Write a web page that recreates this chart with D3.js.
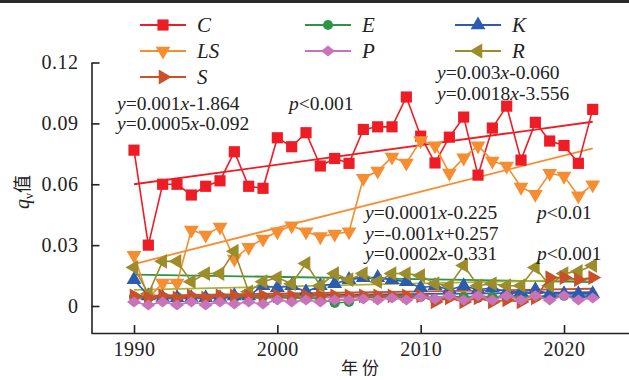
<!DOCTYPE html>
<html>
<head>
<meta charset="utf-8">
<script src="https://cdn.jsdelivr.net/npm/d3@7"></script>
<style>
  body { margin: 0; background: #fff; }
  svg { display: block; font-family: "Liberation Serif", "Times New Roman", serif; }
</style>
</head>
<body>
<div id="chart"></div>
<script>
// years on the x axis
const years = [1990, 1991, 1992, 1993, 1994, 1995, 1996, 1997, 1998, 1999,
  2000, 2001, 2002, 2003, 2004, 2005, 2006, 2007, 2008, 2009,
  2010, 2011, 2012, 2013, 2014, 2015, 2016, 2017, 2018, 2019,
  2020, 2021, 2022];

// q_v values per index
const C = [0.0768, 0.030, 0.060, 0.060, 0.0547, 0.059, 0.0617, 0.076, 0.059, 0.058,
  0.0829, 0.0785, 0.0854, 0.069, 0.0727, 0.0703, 0.087, 0.0883, 0.0883, 0.103,
  0.0837, 0.0705, 0.0832, 0.0931, 0.0645, 0.0877, 0.0985, 0.0719, 0.0905, 0.0813,
  0.0791, 0.0703, 0.0969];
const LS = [0.025, 0.004, 0.0113, 0.0113, 0.0374, 0.035, 0.0389, 0.0232, 0.029, 0.033,
  0.0366, 0.0396, 0.0366, 0.0342, 0.0355, 0.0366, 0.063, 0.0665, 0.0734, 0.0705,
  0.0815, 0.079, 0.0655, 0.073, 0.079, 0.0715, 0.069, 0.0586, 0.0551, 0.0654,
  0.064, 0.0543, 0.0598];
const E = [0.0045, 0.004, 0.004, 0.0045, 0.004, 0.004, 0.0045, 0.004, 0.004, 0.0045,
  0.0045, 0.004, 0.004, 0.0035, 0.0015, 0.002, 0.004, 0.0045, 0.0045, 0.004,
  0.0045, 0.003, 0.0045, 0.0045, 0.004, 0.0045, 0.004, 0.0045, 0.0045, 0.005,
  0.005, 0.0045, 0.005];
const K = [0.013, 0.005, 0.004, 0.004, 0.004, 0.004, 0.004, 0.005, 0.005, 0.010,
  0.009, 0.010, 0.007, 0.010, 0.011, 0.013, 0.014, 0.014, 0.013, 0.012,
  0.009, 0.010, 0.008, 0.010, 0.008, 0.009, 0.007, 0.007, 0.008, 0.006,
  0.006, 0.006, 0.006];
const P = [0.002, 0.0005, 0.002, 0.0005, 0.002, 0.0005, 0.002, 0.001, 0.002, 0.001,
  0.003, 0.002, 0.003, 0.002, 0.003, 0.003, 0.0035, 0.003, 0.004, 0.003,
  0.0045, 0.0035, 0.005, 0.003, 0.005, 0.003, 0.005, 0.003, 0.005, 0.003,
  0.005, 0.003, 0.004];
const R = [0.019, 0.006, 0.022, 0.022, 0.012, 0.016, 0.016, 0.027, 0.007, 0.012,
  0.014, 0.011, 0.021, 0.010, 0.016, 0.013, 0.016, 0.012, 0.016, 0.016,
  0.015, 0.011, 0.010, 0.020, 0.010, 0.011, 0.010, 0.010, 0.019, 0.010,
  0.016, 0.017, 0.020];
const S = [0.005, 0.004, 0.005, 0.004, 0.005, 0.004, 0.005, 0.005, 0.005, 0.005,
  0.005, 0.005, 0.005, 0.005, 0.005, 0.005, 0.005, 0.005, 0.005, 0.005,
  0.005, 0.002, 0.004, 0.002, 0.004, 0.002, 0.003, 0.002, 0.004, 0.014,
  0.014, 0.013, 0.014];

// fitted lines, value at first and last year
const trendYears = [1990, 2022];
const trendC = [0.060, 0.0908];
const trendLS = [0.0207, 0.0777];
const trendE = [0.0155, 0.0118];
const trendR = [0.008, 0.013];
const trendS = [0.005, 0.0085];
const trendK = [0.0045, 0.0068];
const trendP = [0.0035, 0.005];

const yTicks = [0, 0.03, 0.06, 0.09, 0.12];
const xTicks = [1990, 2000, 2010, 2020];

const W = 629, H = 380;
const svg = d3.select('#chart').append('svg')
  .attr('width', W).attr('height', H);

svg.append('rect').attr('x', 0).attr('y', 0).attr('width', W).attr('height', 3).attr('fill', '#2a2a2a');

const x = d3.scaleLinear().domain([1987, 2025]).range([91, 635.7]);
const y = d3.scaleLinear().domain([-0.0133, 0.12]).range([333, 62.5]);

// symbols
const tri = d3.symbol().type(d3.symbolTriangle).size(95)();
const shapes = {
  square: d3.symbol().type(d3.symbolSquare).size(125)(),
  circle: d3.symbol().type(d3.symbolCircle).size(80)(),
  up: tri, down: tri, left: tri, right: tri,
  diamond: 'M-7,0L0,-5.5L7,0L0,5.5Z'
};
const rot = { up: 0, down: 180, left: -90, right: 90, square: 0, circle: 0, diamond: 0 };

const series = [
  { name: 'C', values: C, trend: trendC, color: '#ee1d25', tcolor: '#ee1d25', shape: 'square' },
  { name: 'E', values: E, trend: trendE, color: '#2f9446', tcolor: '#2f9446', shape: 'circle' },
  { name: 'K', values: K, trend: trendK, color: '#2b5caf', tcolor: '#2b5caf', shape: 'up' },
  { name: 'LS', values: LS, trend: trendLS, color: '#f68d30', tcolor: '#f68d30', shape: 'down' },
  { name: 'P', values: P, trend: trendP, color: '#c774bb', tcolor: '#c774bb', shape: 'diamond' },
  { name: 'R', values: R, trend: trendR, color: '#9c8c2a', tcolor: '#a9b43a', shape: 'left' },
  { name: 'S', values: S, trend: trendS, color: '#c9512a', tcolor: '#c9512a', shape: 'right' }
];
const drawOrder = ['C', 'LS', 'E', 'K', 'R', 'S', 'P'];

// axes
const yAxis = d3.axisLeft(y).tickValues(yTicks)
  .tickFormat(d => d === 0 ? '0' : d3.format('.2f')(d))
  .tickSizeInner(-8).tickSizeOuter(0).tickPadding(13);
const gy = svg.append('g').attr('transform', 'translate(91.5,0)').call(yAxis);

const xAxis = d3.axisBottom(x).tickValues(xTicks).tickFormat(d3.format('d'))
  .tickSizeInner(-8).tickSizeOuter(0).tickPadding(9);
const gx = svg.append('g').attr('transform', 'translate(0,333)').call(xAxis);

[gx, gy].forEach(g => {
  g.selectAll('path, line').attr('stroke', '#222').attr('stroke-width', 1.6);
  g.selectAll('text').attr('fill', '#222').style('font-size', '20px')
    .style('font-family', '"Liberation Serif", serif').style('letter-spacing', '0.5px');
});

// trend lines
const line = d3.line().x(d => x(d[0])).y(d => y(d[1]));
drawOrder.forEach(n => {
  const s = series.find(d => d.name === n);
  svg.append('path')
    .attr('d', line(trendYears.map((yr, i) => [yr, s.trend[i]])))
    .attr('fill', 'none').attr('stroke', s.tcolor).attr('stroke-width', 1.8);
});

// data lines and markers
drawOrder.forEach(n => {
  const s = series.find(d => d.name === n);
  const pts = years.map((yr, i) => [yr, s.values[i]]);
  svg.append('path').attr('d', line(pts))
    .attr('fill', 'none').attr('stroke', s.color).attr('stroke-width', 1.6);
  svg.append('g').selectAll('path').data(pts).enter().append('path')
    .attr('d', shapes[s.shape])
    .attr('transform', d => 'translate(' + x(d[0]) + ',' + y(d[1]) + ') rotate(' + rot[s.shape] + ')')
    .attr('fill', s.color);
});

// legend
const legendCols = [140, 305, 455];
const legendRows = [25, 51, 77];
const legendOrder = ['C', 'E', 'K', 'LS', 'P', 'R', 'S'];
legendOrder.forEach((n, i) => {
  const s = series.find(d => d.name === n);
  const lx = legendCols[i % 3], ly = legendRows[Math.floor(i / 3)];
  const g = svg.append('g').attr('transform', 'translate(' + lx + ',' + ly + ')');
  g.append('line').attr('x1', 0).attr('x2', 46).attr('y1', 0).attr('y2', 0)
    .attr('stroke', s.color).attr('stroke-width', 1.8);
  g.append('path').attr('d', shapes[s.shape])
    .attr('transform', 'translate(23,0) rotate(' + rot[s.shape] + ')').attr('fill', s.color);
  g.append('text').attr('x', 57).attr('y', 7).style('font-size', '21px')
    .style('font-style', 'italic').attr('fill', '#222').text(s.name);
});

// annotations
const notes = [
  { x: 117, y: 110, parts: [['y', 1], ['=0.001', 0], ['x', 1], ['-1.864', 0]] },
  { x: 117, y: 130, parts: [['y', 1], ['=0.0005', 0], ['x', 1], ['-0.092', 0]] },
  { x: 289, y: 110, parts: [['p', 1], ['<0.001', 0]] },
  { x: 437, y: 79, parts: [['y', 1], ['=0.003', 0], ['x', 1], ['-0.060', 0]] },
  { x: 437, y: 100, parts: [['y', 1], ['=0.0018', 0], ['x', 1], ['-3.556', 0]] },
  { x: 537, y: 219, parts: [['p', 1], ['<0.01', 0]] },
  { x: 365, y: 219, parts: [['y', 1], ['=0.0001', 0], ['x', 1], ['-0.225', 0]] },
  { x: 365, y: 240, parts: [['y', 1], ['=-0.001', 0], ['x', 1], ['+0.257', 0]] },
  { x: 365, y: 260, parts: [['y', 1], ['=0.0002', 0], ['x', 1], ['-0.331', 0]] },
  { x: 537, y: 260, parts: [['p', 1], ['<0.001', 0]] }
];
notes.forEach(nt => {
  const t = svg.append('text').attr('x', nt.x).attr('y', nt.y)
    .style('font-size', '19.5px').attr('fill', '#222');
  nt.parts.forEach(p => {
    t.append('tspan').style('font-style', p[1] ? 'italic' : 'normal').text(p[0]);
  });
});

// axis titles
svg.append('text').attr('x', 360).attr('y', 374).attr('text-anchor', 'middle')
  .style('font-size', '17px').style('font-family', '"Noto Sans CJK SC", serif')
  .attr('fill', '#222').text('年 份');

const yt = svg.append('text').attr('transform', 'translate(29,192) rotate(-90)')
  .attr('text-anchor', 'middle').style('font-size', '20px').attr('fill', '#222');
yt.append('tspan').style('font-style', 'italic').text('q');
yt.append('tspan').style('font-size', '12px').attr('dy', 4).text('v');
yt.append('tspan').attr('dy', -4).style('font-family', '"Noto Sans CJK SC", serif').style('font-size', '18px').text('值');
</script>
</body>
</html>
